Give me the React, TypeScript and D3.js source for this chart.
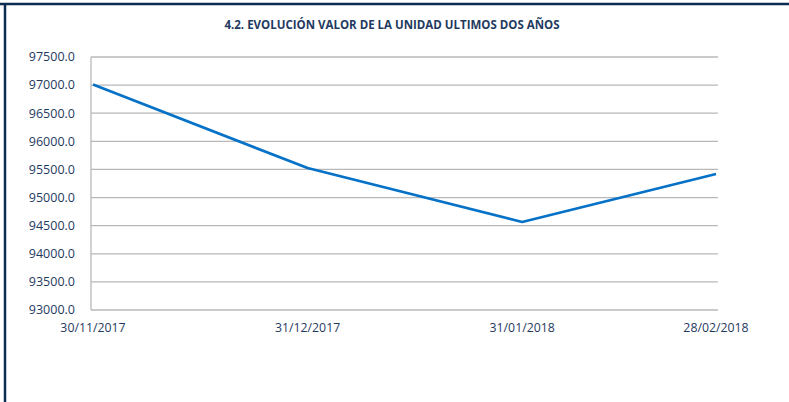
import React from "react";
import * as d3 from "d3";

const dates = ["2017-11-30", "2017-12-31", "2018-01-31", "2018-02-28"];
const dateLabels = ["30/11/2017", "31/12/2017", "31/01/2018", "28/02/2018"];
const values = [97010, 95525, 94565, 95418];
const yTicks = [93000, 93500, 94000, 94500, 95000, 95500, 96000, 96500, 97000, 97500];

const title = "4.2. EVOLUCIÓN VALOR DE LA UNIDAD ULTIMOS DOS AÑOS";

export default function App() {
  const width = 789;
  const height = 402;
  const plot = { left: 91, right: 718, top: 57, bottom: 310 };
  const navy = "#1f3a5f";

  const parse = d3.timeParse("%Y-%m-%d");
  const data = dates.map((d, i) => ({ date: parse(d) as Date, value: values[i], label: dateLabels[i] }));

  // date axis: points sit at their real day offsets
  const x = d3
    .scaleTime()
    .domain(d3.extent(data, (d) => d.date) as [Date, Date])
    .range([93, 716]);

  const y = d3.scaleLinear().domain([93000, 97500]).range([plot.bottom, plot.top]);

  const line = d3
    .line<{ date: Date; value: number }>()
    .x((d) => x(d.date))
    .y((d) => y(d.value));

  const font = "'Open Sans', 'Liberation Sans', sans-serif";

  return (
    <svg
      width={width}
      height={height}
      style={{ position: "absolute", left: 0, top: 0, background: "#fff" }}
    >
      {/* frame */}
      <line x1={0} x2={width} y1={4} y2={4} stroke="#0b2d52" strokeWidth={2.5} />
      <line x1={5} x2={5} y1={3} y2={height} stroke="#0b2d52" strokeWidth={2.5} />

      <text
        x={392}
        y={29}
        textAnchor="middle"
        fontFamily={font}
        fontWeight="bold"
        fontSize={11.5}
        fill={navy}
      >
        {title}
      </text>

      {/* grid */}
      {yTicks.map((t) => (
        <g key={t}>
          <line x1={plot.left} x2={plot.right} y1={y(t)} y2={y(t)} stroke="#b8b8b8" strokeWidth={1.3} />
          <text
            x={75}
            y={y(t)}
            dy="0.35em"
            textAnchor="end"
            fontFamily={font}
            fontSize={12.5}
            fill={navy}
          >
            {d3.format(".1f")(t)}
          </text>
        </g>
      ))}
      <line x1={plot.left} x2={plot.left} y1={plot.top} y2={plot.bottom} stroke="#b8b8b8" strokeWidth={1.3} />

      {/* x labels */}
      {data.map((d) => (
        <text
          key={d.label}
          x={x(d.date)}
          y={332}
          textAnchor="middle"
          fontFamily={font}
          fontSize={12.3}
          fill={navy}
        >
          {d.label}
        </text>
      ))}

      <path d={line(data) || ""} fill="none" stroke="#0572c8" strokeWidth={2.7} strokeLinejoin="round" />
    </svg>
  );
}
